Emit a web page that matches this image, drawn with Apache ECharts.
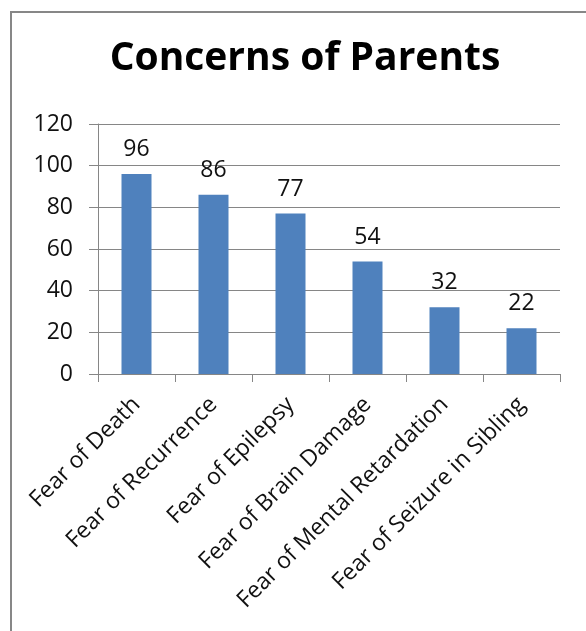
<!DOCTYPE html>
<html><head><meta charset="utf-8">
<script src="https://cdn.jsdelivr.net/npm/echarts@6/dist/echarts.min.js"></script>
<style>html,body{margin:0;padding:0;background:#fff}#c{width:586px;height:631px}</style>
</head><body><div id="c"></div>
<script>
const categories = ["Fear of Death","Fear of Recurrence","Fear of Epilepsy","Fear of Brain Damage","Fear of Mental Retardation","Fear of Seizure in Sibling"];
const values = [96,86,77,54,32,22];
const titleText = "Concerns of Parents";
const chart = echarts.init(document.getElementById('c'));
const font = 'Open Sans';
chart.setOption({
  animation:false,
  backgroundColor:'#fff',
  graphic:[{type:'rect',shape:{x:11,y:12,width:700,height:800},style:{fill:'none',stroke:'#878787',lineWidth:2},silent:true}],
  title:{text:titleText,left:300,textAlign:'center',top:34,textStyle:{fontFamily:font,fontWeight:'bold',fontSize:39,color:'#000'}},
  grid:{left:98,right:26,top:124,bottom:257,containLabel:false},
  xAxis:{type:'category',data:categories,
    axisLine:{lineStyle:{color:'#868686',width:1}},
    axisTick:{show:true,length:8,lineStyle:{color:'#868686'}},
    axisLabel:{rotate:45,fontFamily:font,fontSize:23,color:'#111',margin:27,interval:0}},
  yAxis:{type:'value',min:0,max:120,interval:20,
    axisLine:{show:true,lineStyle:{color:'#868686',width:1}},
    axisTick:{show:true,length:9,lineStyle:{color:'#868686'}},
    splitLine:{lineStyle:{color:'#868686',width:1}},
    axisLabel:{fontFamily:font,fontSize:23,color:'#111',margin:25}},
  series:[{type:'bar',data:values,barWidth:30,itemStyle:{color:'#4F81BD'},
    label:{show:true,position:'top',distance:13,fontFamily:font,fontSize:23,color:'#111'}}]
});
</script></body></html>
